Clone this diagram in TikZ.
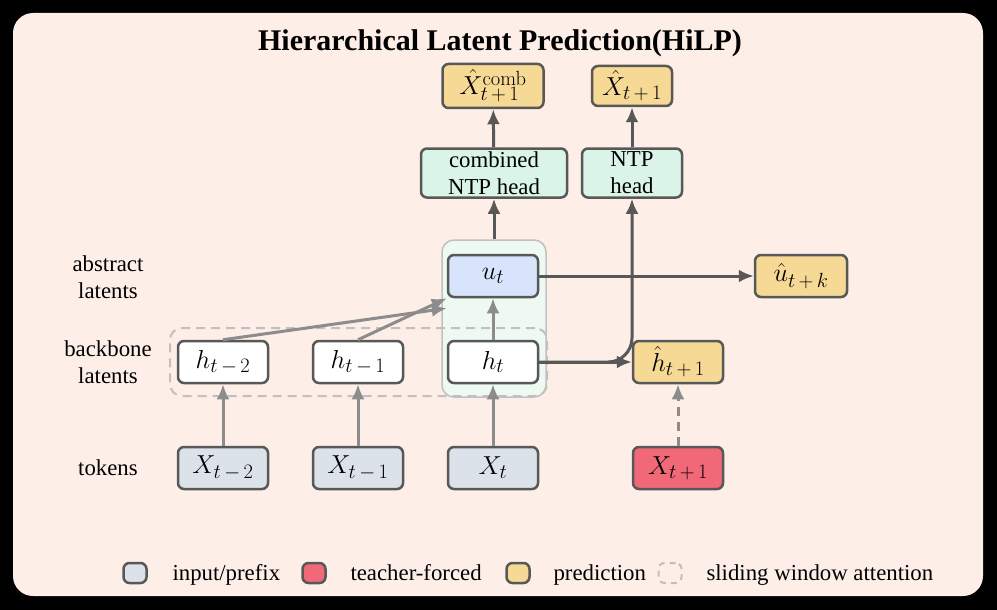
\documentclass[tikz,border=0pt]{standalone}
\usepackage{fix-cm}
\usepackage[no-math]{fontspec}
\setmainfont{Liberation Serif}
\usetikzlibrary{arrows.meta}
\DeclareMathSizes{26}{26}{20.5}{15}
\definecolor{peach}{RGB}{253,238,231}
\definecolor{slate}{RGB}{220,226,233}
\definecolor{rosered}{RGB}{241,105,120}
\definecolor{butter}{RGB}{247,217,150}
\definecolor{mint}{RGB}{218,245,231}
\definecolor{skyblue}{RGB}{215,228,252}
\definecolor{haze}{RGB}{238,249,242}
\definecolor{charcoal}{RGB}{88,88,88}
\definecolor{smoke}{RGB}{140,140,140}
\definecolor{mist}{RGB}{192,192,192}
\newcommand{\lblsize}{\fontsize{22.8}{27}\selectfont}
\newcommand{\mathsize}{\fontsize{26}{31}\selectfont}
\tikzset{
    box/.style={draw=charcoal, rounded corners=6pt, line width=2.5pt, inner sep=0pt,
        minimum width=90pt, minimum height=42pt, font=\mathsize},
    token/.style={box, fill=slate},
    teacher/.style={box, fill=rosered},
    latent/.style={box, fill=white},
    abstract/.style={box, fill=skyblue},
    pred/.style={box, fill=butter},
    head/.style={box, fill=mint, minimum height=49pt, align=center, font=\lblsize},
    feed/.style={draw=smoke, line width=3pt, -{Latex[length=15pt,width=13pt]}},
    flow/.style={draw=charcoal, line width=3pt, -{Latex[length=15pt,width=13pt]}},
    window/.style={draw=mist, dash pattern=on 9pt off 6pt, rounded corners=12pt, line width=2pt, inner sep=0pt},
    group/.style={draw=mist, fill=haze, rounded corners=12pt, line width=1.5pt, inner sep=0pt},
    label/.style={align=center, font=\lblsize},
    key/.style={draw=charcoal, line width=2.5pt, rounded corners=6pt,
        minimum width=23pt, minimum height=20pt, inner sep=0pt},
}

\begin{document}
\begin{tikzpicture}[x=1pt, y=-1pt]
\useasboundingbox (0,0) rectangle (997,610);
\fill[black] (0,0) rectangle (997,610);
\fill[peach, rounded corners=20pt] (13,13) rectangle (983,596);

\node[font=\bfseries\fontsize{30}{36}\selectfont] (title) at (500,43) {Hierarchical Latent Prediction(HiLP)};

% groups
\node[group, minimum width=104pt, minimum height=157pt] (grp) at (494,318.5) {};
\node[window, minimum width=377pt, minimum height=68pt] (win) at (358.5,362) {};

% row labels
\node[label] (abs) at (108,277) {abstract\\latents};
\node[label] (bb) at (108,362) {backbone\\latents};
\node[label] (tok) at (108,468) {tokens};

% tokens
\node[token] (xtm2) at (223,468) {$X_{t\,-\,2}$};
\node[token] (xtm1) at (358,468) {$X_{t\,-\,1}$};
\node[token] (xt) at (493,468) {$X_t$};
\node[teacher] (xtp1) at (678,468) {$X_{t\,+\,1}$};

% latents
\node[latent] (htm2) at (223,362) {$h_{t\,-\,2}$};
\node[latent] (htm1) at (358,362) {$h_{t\,-\,1}$};
\node[latent] (ht) at (493,362) {$h_t$};
\node[pred] (hhat) at (678,362) {$\hat h_{t\,+\,1}$};
\node[abstract] (ut) at (493,276) {$u_t$};
\node[pred, minimum width=92pt] (uhat) at (801,276) {$\hat u_{t\,+\,k}$};

% heads
\node[head, minimum width=146pt] (comb) at (494,173) {combined\\NTP head};
\node[head, minimum width=100pt] (ntp) at (632,173) {NTP\\head};
\node[pred, minimum width=101pt, minimum height=44pt] (xcomb) at (493,86) {$\hat X^{\mathrm{comb}}_{t\,+\,1}$};
\node[pred, minimum width=80pt, minimum height=40pt] (xhat) at (632,86) {$\hat X_{t\,+\,1}$};

% arrows
\draw[feed] (xtm2) -- (htm2);
\draw[feed] (xtm1) -- (htm1);
\draw[feed] (xt) -- (ht);
\draw[feed, dash pattern=on 9pt off 6pt] (xtp1) -- (hhat);
\draw[feed] (htm2.north) -- ([yshift=-10pt]ut.south west);
\draw[feed] (htm1.north) -- (ut.south west);
\draw[feed] (ht) -- (ut);

\draw[flow] (ut) -- (uhat);
\draw[flow] (ht) -- (hhat);
\draw[flow, rounded corners=24pt] (ht.east) -| (ntp.south);
\draw[flow] (grp.north) -- (comb.south);
\draw[flow] (comb) -- (xcomb);
\draw[flow] (ntp) -- (xhat);

% legend
\node[key, fill=slate] (k1) at (135,573) {};
\node[anchor=base west, font=\lblsize] (t1) at (169,580) {input/prefix};
\node[key, fill=rosered] (k2) at (314,573) {};
\node[anchor=base west, font=\lblsize] (t2) at (347,580) {teacher-forced};
\node[key, fill=butter] (k3) at (518,573) {};
\node[anchor=base west, font=\lblsize] (t3) at (550,580) {prediction};
\node[key, draw=mist, line width=2pt, dash pattern=on 6pt off 5pt] (k4) at (670,573) {};
\node[anchor=base west, font=\lblsize] (t4) at (703,580) {sliding window attention};

\end{tikzpicture}
\end{document}
